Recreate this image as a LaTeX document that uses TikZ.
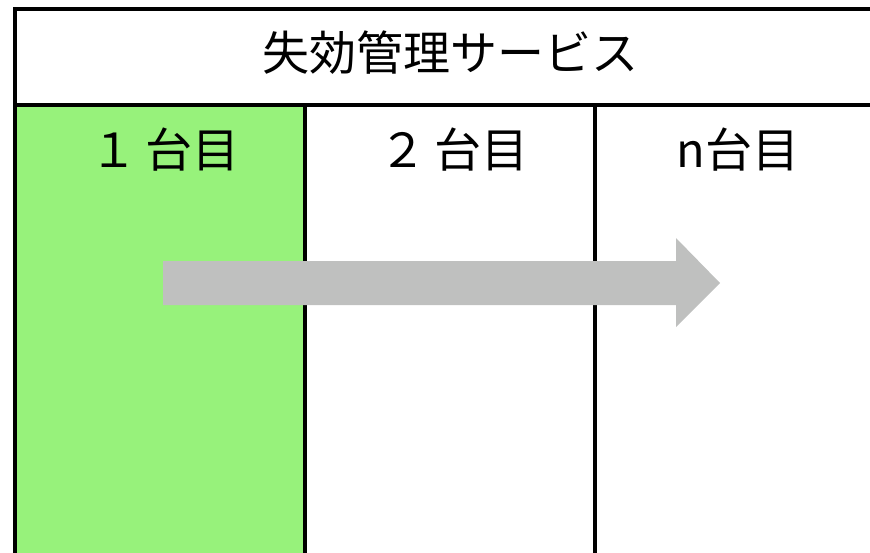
\documentclass[tikz,border=0pt]{standalone}
\usepackage{fontspec}
\setmainfont{Noto Sans CJK JP}
\begin{document}
\begin{tikzpicture}[x=1pt,y=-1pt,
  frame/.style={draw=black,line width=3.2pt},
  lbl/.style={font=\fontsize{47}{52}\selectfont,inner sep=0pt,anchor=center},
  col/.style={font=\fontsize{47}{52}\selectfont,inner sep=0pt,anchor=center}]
\useasboundingbox (0,0) rectangle (870,552);
\begin{scope}
\clip (0,0) rectangle (870,552);
\definecolor{mygreen}{RGB}{151,242,123}
\definecolor{mygrey}{RGB}{191,192,191}
\fill[mygreen] (15,105) rectangle (305,560);
\draw[frame] (15,9) rectangle (890,105);
\draw[frame] (15,105) -- (15,560);
\draw[frame] (305,105) -- (305,560);
\draw[frame] (595,105) -- (595,560);
\fill[mygrey] (163,261) -- (676,261) -- (676,238) -- (720,283) -- (676,327) -- (676,305) -- (163,305) -- cycle;
\end{scope}
\node[lbl] (title) at (450,53) {失効管理サービス};
\node[col] (c1) at (165,150) {１\,台目};
\node[col] (c2) at (454,150) {２\,台目};
\node[col] (c3) at (738,150) {n台目};
\end{tikzpicture}
\end{document}
